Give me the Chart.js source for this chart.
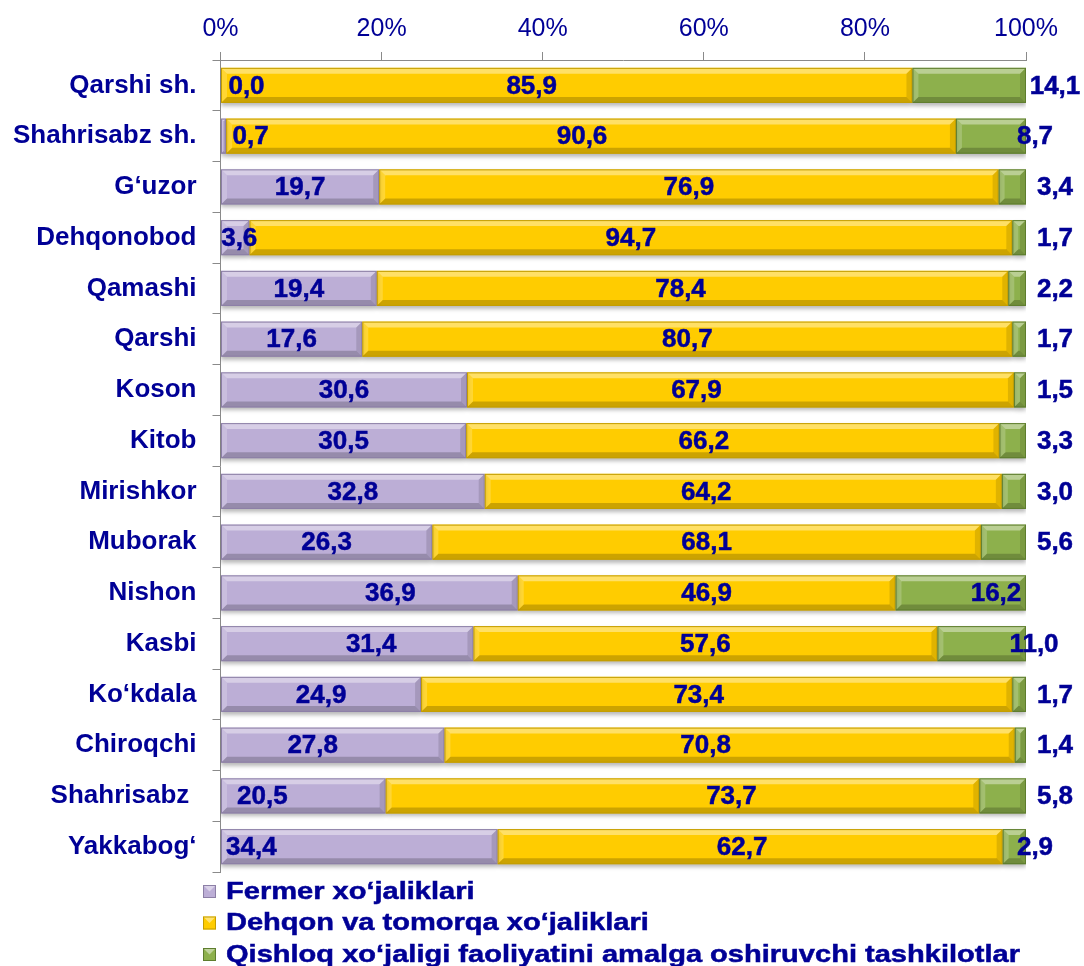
<!DOCTYPE html>
<html>
<head>
<meta charset="utf-8">
<script src="https://cdn.jsdelivr.net/npm/chart.js@4.4.0/dist/chart.umd.min.js"></script>
<style>
  html, body { margin: 0; padding: 0; background: #fff; }
  .wrap { width: 1084px; height: 966px; position: relative; }
</style>
</head>
<body>
<div class="wrap"><canvas id="chart"></canvas></div>
<script>
const districts = ['Qarshi sh.', 'Shahrisabz sh.', 'G‘uzor', 'Dehqonobod', 'Qamashi', 'Qarshi', 'Koson', 'Kitob',
  'Mirishkor', 'Muborak', 'Nishon', 'Kasbi', 'Ko‘kdala', 'Chiroqchi', 'Shahrisabz ', 'Yakkabog‘'];
const seriesNames = ['Fermer xo‘jaliklari', 'Dehqon va tomorqa xo‘jaliklari',
  'Qishloq xo‘jaligi faoliyatini amalga oshiruvchi tashkilotlar'];
const fermer = [0.0, 0.7, 19.7, 3.6, 19.4, 17.6, 30.6, 30.5, 32.8, 26.3, 36.9, 31.4, 24.9, 27.8, 20.5, 34.4];
const dehqon = [85.9, 90.6, 76.9, 94.7, 78.4, 80.7, 67.9, 66.2, 64.2, 68.1, 46.9, 57.6, 73.4, 70.8, 73.7, 62.7];
const tashkilot = [14.1, 8.7, 3.4, 1.7, 2.2, 1.7, 1.5, 3.3, 3.0, 5.6, 16.2, 11.0, 1.7, 1.4, 5.8, 2.9];
const tickValues = [0, 20, 40, 60, 80, 100];

const navy = '#000096';
const fills = ['#bcaed6', '#ffcc00', '#8db04c'];
const borders = ['#8c7fa6', '#c49d00', '#5e7d2e'];

// label nudges (px) from the default spot, per series
const labelShift = [
  { 0: 26, 1: 27, 3: 4, 10: 21, 11: 24, 13: -20, 14: -41, 15: -108 },
  { 0: -35, 1: -9, 4: -12, 6: -44, 7: -29, 8: -37, 12: -18, 13: -24, 14: 49, 15: -8 },
  { 1: -20, 10: -59, 11: -21, 15: -20 }
];

const fmt = v => v.toFixed(1).replace('.', ',');

const barDeco = {
  id: 'barDeco',
  beforeDatasetsDraw(chart) {
    const ctx = chart.ctx;
    ctx.save();
    ctx.shadowColor = 'rgba(0,0,0,0.28)';
    ctx.shadowBlur = 4;
    ctx.shadowOffsetY = 3;
  },
  afterDatasetsDraw(chart) {
    const ctx = chart.ctx;
    ctx.restore();
    const poly = (pts, col) => {
      ctx.beginPath();
      ctx.moveTo(pts[0][0], pts[0][1]);
      pts.slice(1).forEach(p => ctx.lineTo(p[0], p[1]));
      ctx.closePath();
      ctx.fillStyle = col;
      ctx.fill();
    };
    chart.data.datasets.forEach((ds, i) => {
      chart.getDatasetMeta(i).data.forEach(bar => {
        const l = Math.min(bar.x, bar.base), r = Math.max(bar.x, bar.base);
        const t = bar.y - bar.height / 2, b = bar.y + bar.height / 2;
        if (r - l < 1) return;
        const s = Math.min(6, (r - l) / 2, bar.height / 2);
        ctx.save();
        poly([[l, t], [r, t], [r - s, t + s], [l + s, t + s]], 'rgba(255,255,255,0.4)');
        poly([[l, t], [l + s, t + s], [l + s, b - s], [l, b]], 'rgba(255,255,255,0.2)');
        poly([[r, t], [r, b], [r - s, b - s], [r - s, t + s]], 'rgba(0,0,0,0.12)');
        poly([[l, b], [l + s, b - s], [r - s, b - s], [r, b]], 'rgba(0,0,0,0.2)');
        ctx.strokeStyle = borders[i];
        ctx.lineWidth = 1;
        ctx.strokeRect(l + 0.5, t + 0.5, r - l - 1, b - t - 1);
        ctx.restore();
      });
    });

    // value labels
    ctx.save();
    ctx.font = 'bold 26px "Liberation Sans", Arial, sans-serif';
    ctx.fillStyle = navy;
    ctx.strokeStyle = navy;
    ctx.lineWidth = 0.5;
    ctx.textAlign = 'center';
    ctx.textBaseline = 'middle';
    chart.data.datasets.forEach((ds, i) => {
      chart.getDatasetMeta(i).data.forEach((bar, j) => {
        const l = Math.min(bar.x, bar.base), r = Math.max(bar.x, bar.base);
        let x = (l + r) / 2;
        if (i === 2) x = r + 29;
        x += labelShift[i][j] || 0;
        ctx.fillText(fmt(ds.data[j]), x, bar.y + 1);
        ctx.strokeText(fmt(ds.data[j]), x, bar.y + 1);
      });
    });
    ctx.restore();
  },
  afterDraw(chart) {
    // legend stacked at bottom-left, text a bit wide like the original
    const ctx = chart.ctx;
    ctx.save();
    ctx.font = 'bold 24px "Liberation Sans", Arial, sans-serif';
    ctx.textBaseline = 'middle';
    ctx.textAlign = 'left';
    seriesNames.forEach((name, i) => {
      const cy = 891 + i * 31.5;
      const x = 203, y = cy - 6, w = 13, h = 13;
      ctx.fillStyle = fills[i];
      ctx.fillRect(x, y, w, h);
      ctx.fillStyle = 'rgba(255,255,255,0.45)';
      ctx.beginPath(); ctx.moveTo(x, y); ctx.lineTo(x + w, y); ctx.lineTo(x + w / 2, y + h / 2); ctx.closePath(); ctx.fill();
      ctx.strokeStyle = borders[i];
      ctx.lineWidth = 1;
      ctx.strokeRect(x + 0.5, y + 0.5, w - 1, h - 1);
      ctx.fillStyle = navy;
      ctx.strokeStyle = navy;
      ctx.lineWidth = 0.5;
      ctx.save();
      ctx.translate(226, cy + 1);
      ctx.scale(1.21, 1);
      ctx.fillText(name, 0, 0);
      ctx.strokeText(name, 0, 0);
      ctx.restore();
    });
    ctx.restore();
  }
};

Chart.defaults.font.family = '"Liberation Sans", Arial, sans-serif';

new Chart(document.getElementById('chart'), {
  type: 'bar',
  data: {
    labels: districts,
    datasets: [fermer, dehqon, tashkilot].map((d, i) => ({
      label: seriesNames[i],
      data: d,
      backgroundColor: fills[i],
      borderWidth: 0,
      barPercentage: 0.69,
      categoryPercentage: 1
    }))
  },
  options: {
    indexAxis: 'y',
    responsive: true,
    maintainAspectRatio: false,
    animation: false,
    layout: { padding: { left: 0, right: 58, top: 0, bottom: 94 } },
    plugins: { legend: { display: false }, tooltip: { enabled: false } },
    scales: {
      x: {
        position: 'top',
        stacked: true,
        min: 0,
        max: 100,
        afterBuildTicks: s => { s.ticks = tickValues.map(v => ({ value: v })); },
        ticks: { callback: v => v + '%', color: navy, font: { size: 25 }, padding: 8, maxRotation: 0 },
        grid: { drawOnChartArea: false, tickLength: 8, color: '#8a8a8a' },
        border: { color: '#8a8a8a' },
        afterFit: s => { s.height = 60; }
      },
      y: {
        stacked: true,
        ticks: { color: navy, font: { size: 26, weight: 'bold' }, padding: 16 },
        grid: { drawOnChartArea: false, tickLength: 8, color: '#8a8a8a', offset: true },
        border: { color: '#8a8a8a' },
        afterFit: s => { s.width = 220.5; }
      }
    }
  },
  plugins: [barDeco]
});
</script>
</body>
</html>
